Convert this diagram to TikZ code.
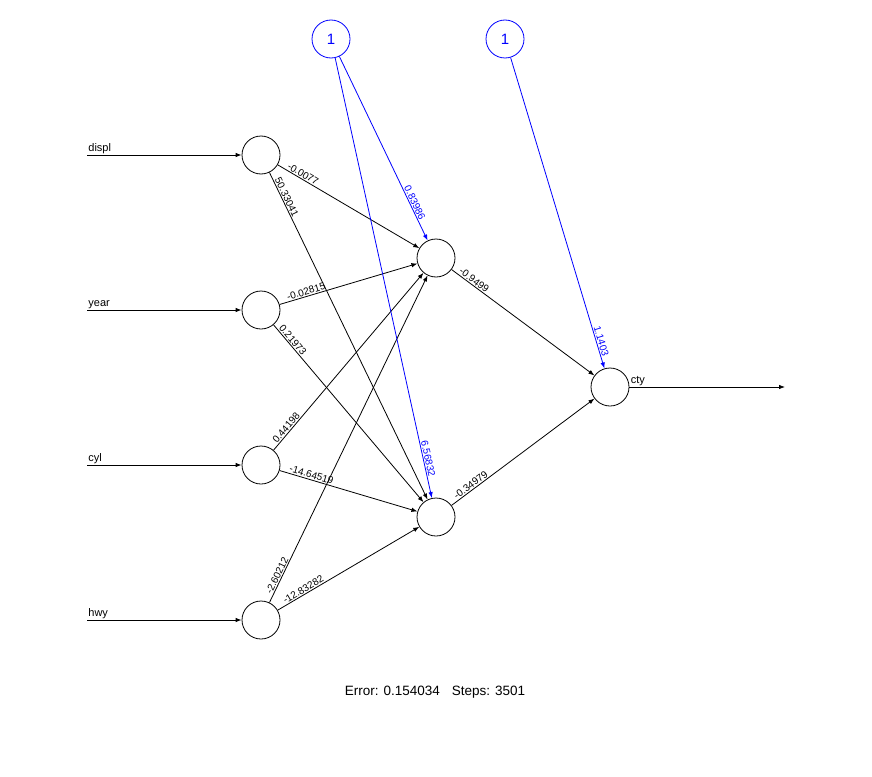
\documentclass[tikz,border=0pt]{standalone}
\usepackage{fontspec}
\setmainfont{Liberation Sans}
\usetikzlibrary{arrows.meta}
\begin{document}
\begin{tikzpicture}[x=1pt,y=-1pt,line width=0.8pt,>={Latex[length=6pt,width=4.5pt]},
  neuron/.style={draw,circle,minimum size=38pt,inner sep=0pt},
  bias/.style={neuron,blue,font=\fontsize{15}{15}\selectfont},
  iolab/.style={anchor=south west,inner sep=1pt,font=\fontsize{11}{11}\selectfont},
  wstart/.style={sloped,anchor=south west,inner sep=1pt,font=\fontsize{10}{10}\selectfont},
  wend/.style={sloped,anchor=south east,inner sep=1pt,font=\fontsize{10}{10}\selectfont}]
\useasboundingbox (0,0) rectangle (872,776);
% input layer with incoming arrows
\foreach \n/\y in {displ/155,year/310,cyl/465,hwy/620} {
  \node[neuron] (\n) at (261,\y) {};
  \coordinate (\n-in) at (87,\y);
  \draw[->] (\n-in) -- node[iolab,pos=0] (lab-\n) {\n} (\n);}
% hidden, output and bias nodes
\node[neuron] (h1) at (436,258) {};
\node[neuron] (h2) at (436,517) {};
\node[neuron] (out) at (610,387) {};
\node[bias] (b1) at (331,39) {1};
\node[bias] (b2) at (505,39) {1};
% weights
\foreach \a/\b/\p/\w in {displ/h1/0.05/-0.0077,displ/h2/0.02/50.33041,year/h1/0.055/-0.02815,year/h2/0.02/0.21973,
  cyl/h1/0.025/0.44198,cyl/h2/0.055/-14.64519,hwy/h1/0.018/-2.60212,hwy/h2/0.052/-12.83282,h1/out/0.035/-0.9499,h2/out/0.036/-0.34979}
  {\draw[->] (\a) -- node[wstart,pos=\p] (w-\a-\b) {\w} (\b);}
\foreach \a/\b/\p/\w in {b1/h1/0.9/0.83986,b1/h2/0.956/6.56832,b2/out/0.968/1.1403}
  {\draw[->,blue] (\a) -- node[wend,pos=\p] (w-\a-\b) {\w} (\b);}
% output arrow
\coordinate (cty-out) at (785,387);
\draw[->] (out) -- node[iolab,pos=0] (lab-cty) {cty} (cty-out);
\node[font=\fontsize{13.5}{13.5}\selectfont] (err) at (435,692) {Error: 0.154034\hspace{12pt}Steps: 3501};
\end{tikzpicture}
\end{document}
